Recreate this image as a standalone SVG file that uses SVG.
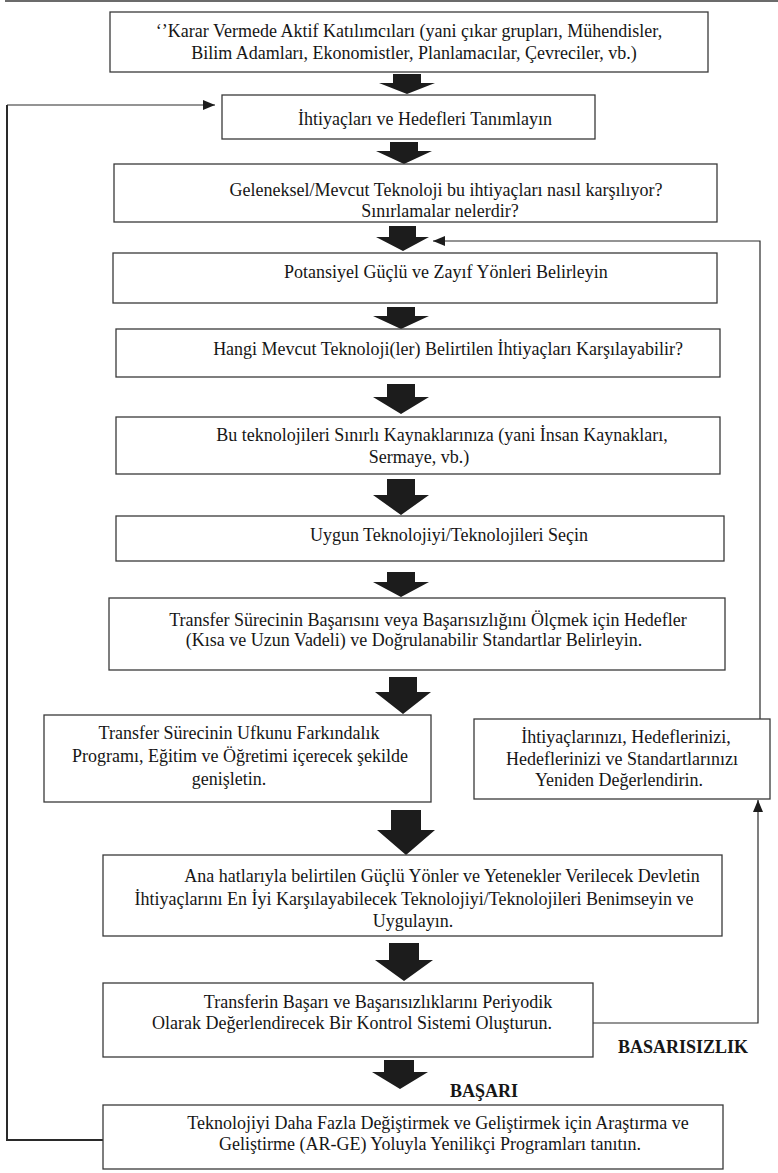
<svg xmlns="http://www.w3.org/2000/svg" width="778" height="1173" viewBox="0 0 778 1173">
<style>
.bx{fill:#fff;stroke:#3a3a3a;stroke-width:1.3}
.t{font-family:'Liberation Serif','Times New Roman','DejaVu Serif',serif;font-size:18px;fill:#161616;text-anchor:middle}
.lb{font-family:'Liberation Serif','Times New Roman','DejaVu Serif',serif;font-size:18px;font-weight:bold;fill:#161616}
.blk{fill:#1c1c1c}
.ln{fill:none;stroke:#2a2a2a;stroke-width:1.2}
.lnb{fill:none;stroke:#2a2a2a;stroke-width:2}
</style>
<defs>
<marker id="ah" viewBox="0 0 12 10" refX="12" refY="5" markerWidth="12" markerHeight="10" markerUnits="userSpaceOnUse" orient="auto">
<path d="M0,0 L12,5 L0,10 Z" fill="#1c1c1c"/>
</marker>
</defs>
<rect x="0" y="0" width="778" height="1173" fill="#fff"/>
<line x1="5" y1="1" x2="778" y2="1" stroke="#3a3a3a" stroke-width="1.5"/>

<g id="connectors">
<path class="blk" d="M393,74 H421 V83 H435 L407,94 L379,83 H393 Z"/>
<path class="blk" d="M390,142 H418 V151 H432 L404,164 L376,151 H390 Z"/>
<path class="blk" d="M389,226 H416 V237 H429 L403,251 L376,237 H389 Z"/>
<path class="blk" d="M387,307 H415 V316 H429 L401,329 L373,316 H387 Z"/>
<path class="blk" d="M387,384 H415 V397 H429 L401,414 L373,397 H387 Z"/>
<path class="blk" d="M387,479 H415 V495 H429 L401,515 L373,495 H387 Z"/>
<path class="blk" d="M387,572 H415 V582 H429 L401,597 L373,582 H387 Z"/>
<path class="blk" d="M389,677 H417 V692 H431 L403,714 L375,692 H389 Z"/>
<path class="blk" d="M391,810 H421 V830 H435 L406,855 L377,830 H391 Z"/>
<path class="blk" d="M389,943 H419 V960 H433 L404,981 L375,960 H389 Z"/>
<path class="blk" d="M384,1060 H414 V1072 H428 L400,1089 L372,1072 H384 Z"/>
<path class="lnb" d="M103,1140 H7 V105"/>
<path class="ln" d="M7,105 H215" marker-end="url(#ah)"/>
<path class="ln" d="M593,1023 H758 V800" marker-end="url(#ah)"/>
<path class="ln" d="M760,719 V241 H433" marker-end="url(#ah)"/>
</g>

<g id="n1"><rect class="bx" x="110" y="12" width="598" height="60"/>
<text class="t" x="409" y="37">‘’Karar Vermede Aktif Katılımcıları (yani çıkar grupları, Mühendisler,</text>
<text class="t" x="414" y="59">Bilim Adamları, Ekonomistler, Planlamacılar, Çevreciler, vb.)</text></g>

<g id="n2"><rect class="bx" x="222" y="95" width="373" height="44"/>
<text class="t" x="425" y="125">İhtiyaçları ve Hedefleri Tanımlayın</text></g>

<g id="n3"><rect class="bx" x="114" y="164" width="603" height="58"/>
<text class="t" x="446" y="196">Geleneksel/Mevcut Teknoloji bu ihtiyaçları nasıl karşılıyor?</text>
<text class="t" x="440" y="217">Sınırlamalar nelerdir?</text></g>

<g id="n4"><rect class="bx" x="113" y="253" width="604" height="50"/>
<text class="t" x="446" y="278">Potansiyel Güçlü ve Zayıf Yönleri Belirleyin</text></g>

<g id="n5"><rect class="bx" x="116" y="329" width="604" height="48"/>
<text class="t" x="448" y="355">Hangi Mevcut Teknoloji(ler) Belirtilen İhtiyaçları Karşılayabilir?</text></g>

<g id="n6"><rect class="bx" x="116" y="417" width="604" height="57"/>
<text class="t" x="442" y="441">Bu teknolojileri Sınırlı Kaynaklarınıza (yani İnsan Kaynakları,</text>
<text class="t" x="419" y="463">Sermaye, vb.)</text></g>

<g id="n7"><rect class="bx" x="116" y="516" width="608" height="45"/>
<text class="t" x="449" y="541">Uygun Teknolojiyi/Teknolojileri Seçin</text></g>

<g id="n8"><rect class="bx" x="109" y="598" width="616" height="72"/>
<text class="t" x="428" y="626">Transfer Sürecinin Başarısını veya Başarısızlığını Ölçmek için Hedefler</text>
<text class="t" x="414" y="646">(Kısa ve Uzun Vadeli) ve Doğrulanabilir Standartlar Belirleyin.</text></g>

<g id="n9"><rect class="bx" x="44" y="715" width="387" height="87"/>
<text class="t" x="239" y="739">Transfer Sürecinin Ufkunu Farkındalık</text>
<text class="t" x="240" y="762">Programı, Eğitim ve Öğretimi içerecek şekilde</text>
<text class="t" x="229" y="785">genişletin.</text></g>

<g id="n10"><rect class="bx" x="474" y="719" width="296" height="80"/>
<text class="t" x="626" y="743">İhtiyaçlarınızı, Hedeflerinizi,</text>
<text class="t" x="622" y="765">Hedeflerinizi ve Standartlarınızı</text>
<text class="t" x="619" y="786">Yeniden Değerlendirin.</text></g>

<g id="n11"><rect class="bx" x="103" y="855" width="619" height="81"/>
<text class="t" x="442" y="882">Ana hatlarıyla belirtilen Güçlü Yönler ve Yetenekler Verilecek Devletin</text>
<text class="t" x="414" y="905">İhtiyaçlarını En İyi Karşılayabilecek Teknolojiyi/Teknolojileri Benimseyin ve</text>
<text class="t" x="413" y="927">Uygulayın.</text></g>

<g id="n12"><rect class="bx" x="103" y="983" width="490" height="74"/>
<text class="t" x="378" y="1008">Transferin Başarı ve Başarısızlıklarını Periyodik</text>
<text class="t" x="352" y="1029">Olarak Değerlendirecek Bir Kontrol Sistemi Oluşturun.</text></g>

<g id="n13"><rect class="bx" x="103" y="1105" width="620" height="64"/>
<text class="t" x="438" y="1129">Teknolojiyi Daha Fazla Değiştirmek ve Geliştirmek için Araştırma ve</text>
<text class="t" x="430" y="1150">Geliştirme (AR-GE) Yoluyla Yenilikçi Programları tanıtın.</text></g>

<text class="lb" x="618" y="1053">BASARISIZLIK</text>
<text class="lb" x="450" y="1097">BAŞARI</text>
</svg>
